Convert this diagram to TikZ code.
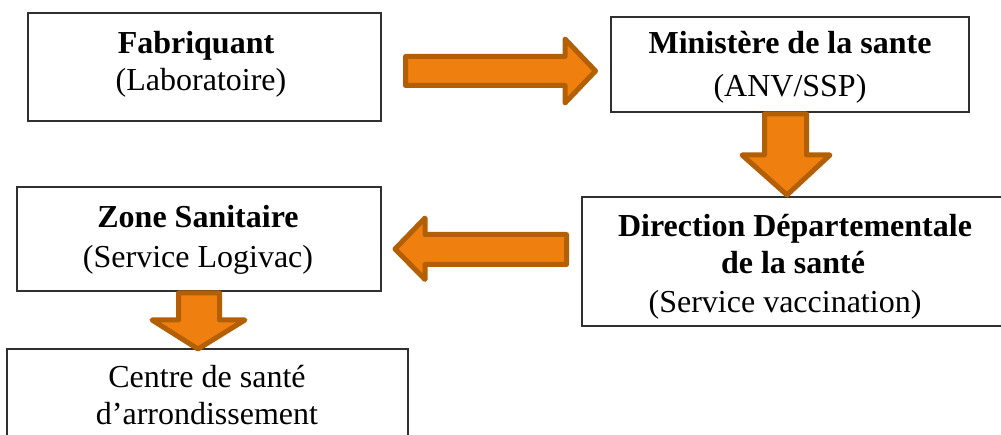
\documentclass[tikz,border=0pt]{standalone}
\usepackage{fontspec}
\setmainfont{Liberation Serif}
\definecolor{arrfill}{HTML}{EF7F0E}
\definecolor{arrline}{HTML}{B35F05}
\definecolor{boxline}{HTML}{303030}
\begin{document}
\begin{tikzpicture}[x=1pt,y=-1pt,
  box/.style={draw=boxline,line width=1.2pt},
  txt/.style={anchor=base,inner sep=0pt,font=\fontsize{32}{36}\selectfont},
  btxt/.style={txt,font=\fontsize{32}{36}\selectfont\bfseries},
  bigarrow/.style={fill=arrfill,draw=arrline,line width=5pt,line join=round}]
\useasboundingbox (0,0) rectangle (1001,435);
% boxes
\draw[box] (28,13) rectangle (381,121);
\draw[box] (611,17) rectangle (969,112);
\draw[box] (582,197) rectangle (1010,326);
\draw[box] (17,187) rectangle (381,291);
\draw[box] (7,349) rectangle (408,445);
% texts
\node[btxt] (fab) at (196,54) {Fabriquant};
\node[txt] (lab) at (201,91) {(Laboratoire)};
\node[btxt] (min) at (790,54) {Ministère de la sante};
\node[txt] (anv) at (790,97) {(ANV/SSP)};
\node[btxt] (dir) at (795,237) {Direction Départementale};
\node[btxt] (dls) at (793,274) {de la santé};
\node[txt] (svc) at (785,313) {(Service vaccination)};
\node[btxt] (zone) at (198,228) {Zone Sanitaire};
\node[txt] (logi) at (198,268) {(Service Logivac)};
\node[txt] (cen) at (207,388) {Centre de santé};
\node[txt] (arr) at (207,424) {d’arrondissement};
% arrows
\draw[bigarrow] (405.5,56.5) -- (565,56.5) -- (565,39) -- (595.5,71) -- (565,103) -- (565,85.5) -- (405.5,85.5) -- cycle;
\draw[bigarrow] (764.5,114) -- (806.5,114) -- (806.5,155) -- (830,155) -- (787,195) -- (742,155) -- (764.5,155) -- cycle;
\draw[bigarrow] (566.5,234.5) -- (425,234.5) -- (425,218) -- (395,249) -- (425,279.5) -- (425,264.5) -- (566.5,264.5) -- cycle;
\draw[bigarrow] (178.5,293) -- (219.5,293) -- (219.5,320) -- (245,320) -- (198,349) -- (152,320) -- (178.5,320) -- cycle;
\end{tikzpicture}
\end{document}
